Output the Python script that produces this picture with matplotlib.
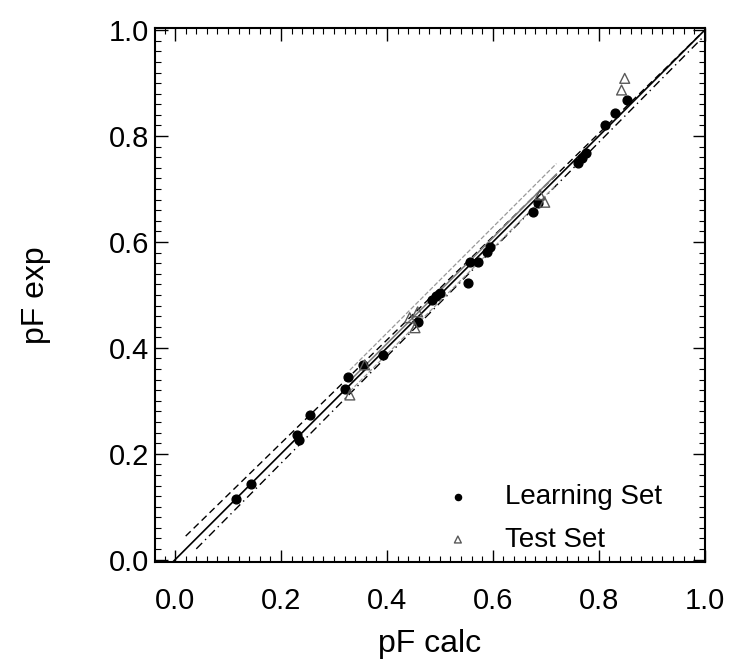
import numpy as np
import matplotlib
matplotlib.use("Agg")
import matplotlib.pyplot as plt
from matplotlib.ticker import MultipleLocator, FormatStrFormatter

plt.rcParams['font.family'] = ['Liberation Sans', 'DejaVu Sans']

# learning set (filled circles)
learn_x = [0.115, 0.143, 0.230, 0.234, 0.255, 0.321, 0.326, 0.355, 0.392, 0.458,
           0.485, 0.492, 0.500, 0.553, 0.557, 0.572, 0.589, 0.594, 0.675, 0.685,
           0.760, 0.768, 0.775, 0.811, 0.830, 0.853]
learn_y = [0.115, 0.143, 0.236, 0.226, 0.274, 0.323, 0.345, 0.368, 0.387, 0.449,
           0.491, 0.498, 0.504, 0.523, 0.562, 0.562, 0.581, 0.591, 0.657, 0.674,
           0.749, 0.758, 0.768, 0.821, 0.843, 0.868]

# test set (open triangles)
test_x = [0.330, 0.358, 0.443, 0.453, 0.458, 0.698, 0.689, 0.849, 0.843]
test_y = [0.311, 0.368, 0.457, 0.438, 0.468, 0.675, 0.689, 0.909, 0.887]

# regression line and bands (intercept, slope, x start, x end)
fit_line = (0.0, 1.0, -0.02, 1.0)
upper_band = (0.025, 0.975, 0.02, 0.99)
lower_band = (-0.02, 1.01, 0.04, 1.0)
test_fit = (0.008, 1.0, 0.33, 0.72)

fig = plt.figure(figsize=(7.31, 6.68), dpi=100)
ax = fig.add_axes([0.212, 0.159, 0.752, 0.799])


def draw(line, **kw):
    b, m, x0, x1 = line
    xs = np.array([x0, x1])
    ax.plot(xs, b + m * xs, **kw)


draw(fit_line, color='black', lw=1.2)
draw(upper_band, color='black', lw=1.0, ls=(0, (5, 3)))
draw(lower_band, color='black', lw=1.0, ls=(0, (6, 3, 1, 3)))
draw(test_fit, color='0.5', lw=1.2)
draw((test_fit[0] + 0.02, 1.0, 0.33, 0.72), color='0.6', lw=0.9, ls='--')
draw((test_fit[0] - 0.02, 1.0, 0.33, 0.72), color='0.6', lw=0.9, ls='--')

ax.scatter(learn_x, learn_y, s=40, color='black', zorder=3, label='Learning Set')
ax.scatter(test_x, test_y, s=50, marker='^', facecolors='none', edgecolors='0.35',
           linewidths=1.0, zorder=4, label='Test Set')

ax.set_xlim(-0.038, 1.0)
ax.set_ylim(-0.004, 1.004)
ax.xaxis.set_major_locator(MultipleLocator(0.2))
ax.yaxis.set_major_locator(MultipleLocator(0.2))
ax.xaxis.set_minor_locator(MultipleLocator(0.02))
ax.yaxis.set_minor_locator(MultipleLocator(0.02))
ax.tick_params(which='both', direction='in', top=True, right=True)
ax.tick_params(which='major', length=9, width=1.0, labelsize=21)
ax.tick_params(which='minor', length=4, width=0.8)
ax.tick_params(axis='x', which='major', pad=18)
ax.tick_params(axis='y', which='major', pad=4)
ax.xaxis.set_major_formatter(FormatStrFormatter('%.1f'))
ax.yaxis.set_major_formatter(FormatStrFormatter('%.1f'))

for sp in ax.spines.values():
    sp.set_linewidth(1.5)

ax.set_xlabel('pF calc', fontsize=23, labelpad=10)
ax.set_ylabel('pF exp', fontsize=23, labelpad=42)

ax.legend(loc='lower right', bbox_to_anchor=(0.968, -0.03), frameon=False,
          fontsize=20, handletextpad=0.7, labelspacing=0.6, markerscale=0.7)

fig.savefig('out.png', dpi=100)
